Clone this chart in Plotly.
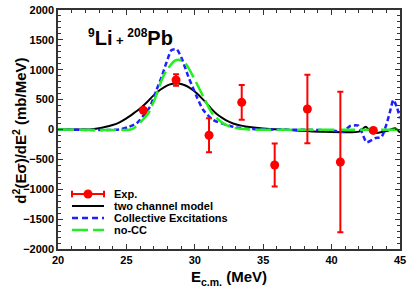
import plotly.graph_objects as go

# ---- data ----
exp_x = [26.24, 28.63, 31.04, 33.43, 35.84, 38.23, 40.64, 43.05]
exp_y = [321, 828, -97, 455, -594, 343, -544, -15]
exp_err = [40, 95, 285, 290, 360, 575, 1175, 30]

two_x = [20, 22, 22.5, 23, 23.5, 24, 24.5, 25, 25.5, 26, 26.5, 27, 27.5, 28, 28.3,
         28.68, 29.0, 29.4, 29.8, 30.14, 30.5, 30.87, 31.2, 31.6, 32.0, 32.33, 32.8, 33.4, 34,
         35, 36, 37, 37.7, 39.15, 42.0, 42.5, 42.93, 43.42, 44.03, 44.63, 45]
two_y = [0, 0, 5, 20, 45, 75, 120, 185, 265, 350, 455, 575, 670, 740, 762,
         773, 760, 728, 670, 605, 525, 438, 350, 259, 195, 147, 100, 65, 40,
         15, 3, -10, -20, -36, -36, 47, -53, -53, -25, 20, -50]

ce_x = [20, 24.5, 25.14, 25.75, 26.2, 26.72, 27.2, 27.58, 27.95, 28.3, 28.68, 29.04, 29.53,
        30.14, 30.62, 31.35, 32.33, 33, 34, 36, 38, 40, 40.86, 41.35, 41.95, 42.2, 42.56,
        43.17, 43.66, 44.03, 44.27, 44.51, 44.76, 45]
ce_y = [0, 0, 40, 103, 220, 382, 661, 884, 1135, 1330, 1342, 1191, 884,
        549, 326, 159, 75, 35, 10, 0, -5, -15, -36, 59, 64, -40, -214,
        -147, -120, 103, 298, 494, 382, 187]

nocc_x = [20, 25.3, 25.6, 26.1, 26.6, 27.1, 27.58, 27.95, 28.55, 28.92, 29.4, 30.14, 30.62,
          31.0, 31.35, 32.08, 32.6, 33.2, 34, 45]
nocc_y = [0, 0, 30, 140, 271, 522, 828, 996, 1152, 1163, 1080, 770, 549,
          380, 243, 103, 45, 15, 0, -5]

legend_names = ["Exp.", "two channel model", "Collective Excitations", "no-CC"]
x_ticks = [20, 25, 30, 35, 40, 45]
y_ticks = [-2000, -1500, -1000, -500, 0, 500, 1000, 1500, 2000]

RED = "#ff0000"
BLACK = "#000000"
BLUE = "#1f1fff"
GREEN = "#22ee22"
FONT = "Liberation Sans, Arial, sans-serif"
BLUE_DASH = "5px,3px"
GREEN_DASH = "16px,5px"

fig = go.Figure()
fig.add_trace(go.Scatter(x=two_x, y=two_y, mode="lines", name=legend_names[1],
                         line=dict(color=BLACK, width=2, shape="spline", smoothing=0.6),
                         showlegend=False))
fig.add_trace(go.Scatter(x=ce_x, y=ce_y, mode="lines", name=legend_names[2],
                         line=dict(color=BLUE, width=2.5, dash=BLUE_DASH, shape="spline",
                                   smoothing=0.6), showlegend=False))
fig.add_trace(go.Scatter(x=nocc_x, y=nocc_y, mode="lines", name=legend_names[3],
                         line=dict(color=GREEN, width=2.5, dash=GREEN_DASH, shape="spline",
                                   smoothing=0.6), showlegend=False))
fig.add_trace(go.Scatter(x=exp_x, y=exp_y, mode="markers", name=legend_names[0],
                         marker=dict(color=RED, size=9),
                         error_y=dict(type="data", array=exp_err, color=RED, thickness=2, width=3),
                         showlegend=False))

# ---- manual legend (paper coords) ----
ly = [0.230, 0.180, 0.130, 0.0795]
lx0, lx1, ltx = 0.041, 0.1345, 0.158
styles = [dict(color=RED, width=2), dict(color=BLACK, width=2),
          dict(color=BLUE, width=2.5, dash="6px,4px"), dict(color=GREEN, width=2.5, dash=GREEN_DASH)]
shapes = []
for yy, st in zip(ly, styles):
    shapes.append(dict(type="line", xref="paper", yref="paper", x0=lx0, x1=lx1, y0=yy, y1=yy,
                       line=st))
for xc in (lx0, lx1):
    shapes.append(dict(type="line", xref="paper", yref="paper", x0=xc, x1=xc,
                       y0=ly[0] - 0.014, y1=ly[0] + 0.014, line=dict(color=RED, width=2)))
shapes.append(dict(type="circle", xref="paper", yref="paper", xsizemode="pixel", ysizemode="pixel",
                   xanchor=(lx0 + lx1) / 2, yanchor=ly[0], x0=-4.5, x1=4.5, y0=-4.5, y1=4.5,
                   fillcolor=RED, line=dict(color=RED, width=0)))

annotations = []
for yy, name in zip(ly, legend_names):
    annotations.append(dict(x=ltx, y=yy, xref="paper", yref="paper", text=name, showarrow=False,
                            xanchor="left", yanchor="middle",
                            font=dict(family=FONT, size=11, color="black", weight="bold")))
annotations.append(dict(x=0.081, y=0.885, xref="paper", yref="paper", showarrow=False,
                        xanchor="left", yanchor="middle",
                        text=("<sup><span style='font-size:12px'>9</span></sup>Li"
                              "<span style='font-size:13px'> + </span>"
                              "<sup><span style='font-size:12px'>208</span></sup>Pb"),
                        font=dict(family=FONT, size=20, color="black", weight="bold")))
# y-axis title
annotations.append(dict(x=-0.112, y=0.494, xref="paper", yref="paper", showarrow=False,
                        xanchor="center", yanchor="middle", textangle=-90,
                        text="d<sup>2</sup>(Eσ)/dE<sup>2</sup> (mb/MeV)",
                        font=dict(family=FONT, size=15, color="black", weight="bold")))

axis_common = dict(showline=True, linecolor="#333333", linewidth=1.5, mirror="allticks",
                   ticks="inside", ticklen=5, tickwidth=1, tickcolor="#333333",
                   showgrid=False, zeroline=False, automargin=False,
                   tickfont=dict(family=FONT, size=11, color="black", weight="bold"))

fig.update_layout(
    width=415, height=291,
    margin=dict(l=58, r=15, t=10, b=42),
    plot_bgcolor="white", paper_bgcolor="white",
    shapes=shapes, annotations=annotations,
    xaxis=dict(range=[20, 45], tickvals=x_ticks,
               minor=dict(dtick=1, ticks="inside", ticklen=3, tickcolor="#333333", showgrid=False),
               title=dict(text="E<sub>c.m.</sub> (MeV)", standoff=7,
                          font=dict(family=FONT, size=15, color="black", weight="bold")),
               **axis_common),
    yaxis=dict(range=[-2000, 2000], tickvals=y_ticks,
               minor=dict(dtick=100, ticks="inside", ticklen=3, tickcolor="#333333", showgrid=False),
               **axis_common),
)

fig.write_html("out.html", config={"displayModeBar": False},
               post_script="document.body.style.margin='0';")
